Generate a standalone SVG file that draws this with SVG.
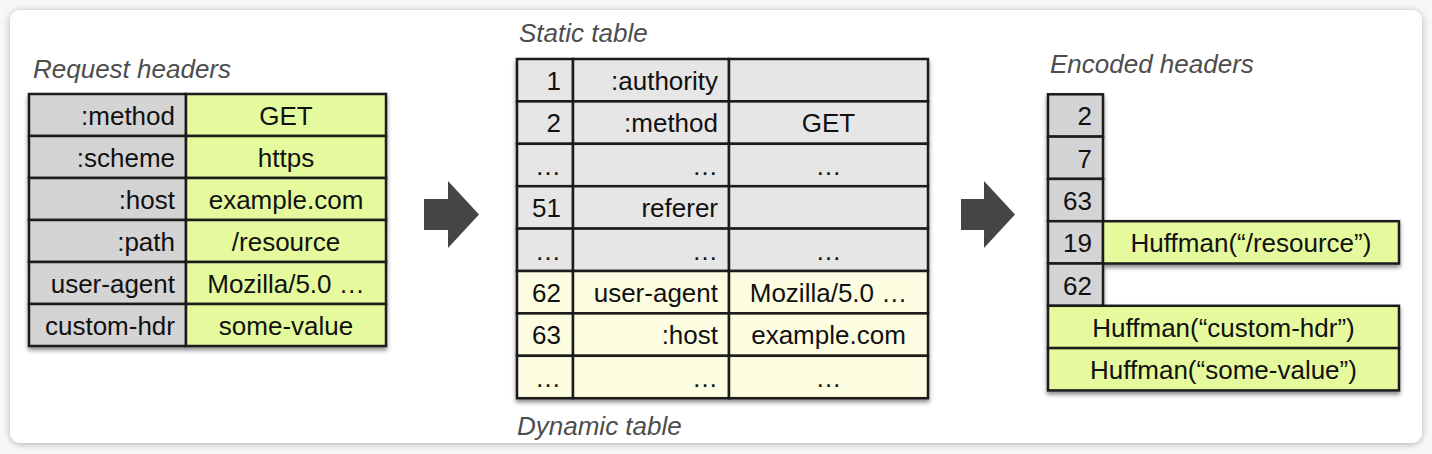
<svg xmlns="http://www.w3.org/2000/svg" width="1432" height="454" viewBox="0 0 1432 454">
<defs>
<filter id="cardShadow" x="-5%" y="-10%" width="110%" height="120%">
<feDropShadow dx="0" dy="1" stdDeviation="3.5" flood-color="#000" flood-opacity="0.3"/>
</filter>
<filter id="tblShadow" x="-5%" y="-5%" width="110%" height="115%">
<feDropShadow dx="0" dy="3" stdDeviation="2" flood-color="#000" flood-opacity="0.45"/>
</filter>
<style>
.c{stroke:#1a1a1a;stroke-width:2.5}
.g{fill:#d4d4d4}
.s{fill:#e6e6e6}
.y{fill:#fdfde1}
.v{fill:#e5fa9c}
.t{font-family:"Liberation Sans",Arial,sans-serif;font-size:26px;fill:#111}
.r{text-anchor:end}
.m{text-anchor:middle}
.h{font-family:"Liberation Sans",Arial,sans-serif;font-size:26px;font-style:italic;fill:#4d4d4d}
.a{fill:#454545}
</style>
</defs>
<rect x="0" y="0" width="1432" height="454" fill="#f7f7f7"/>
<rect x="10" y="10" width="1412" height="433" rx="11" fill="#ffffff" filter="url(#cardShadow)"/>

<g id="request-headers">
<text class="h" x="33" y="77.5">Request headers</text>
<g filter="url(#tblShadow)">
<rect class="c g" x="29" y="94" width="157" height="42"/><rect class="c v" x="186" y="94" width="200" height="42"/>
<rect class="c g" x="29" y="136" width="157" height="42"/><rect class="c v" x="186" y="136" width="200" height="42"/>
<rect class="c g" x="29" y="178" width="157" height="42"/><rect class="c v" x="186" y="178" width="200" height="42"/>
<rect class="c g" x="29" y="220" width="157" height="42"/><rect class="c v" x="186" y="220" width="200" height="42"/>
<rect class="c g" x="29" y="262" width="157" height="42"/><rect class="c v" x="186" y="262" width="200" height="42"/>
<rect class="c g" x="29" y="304" width="157" height="42"/><rect class="c v" x="186" y="304" width="200" height="42"/>
</g>
<text class="t r" x="175" y="125">:method</text><text class="t m" x="286" y="125">GET</text>
<text class="t r" x="175" y="167">:scheme</text><text class="t m" x="286" y="167">https</text>
<text class="t r" x="175" y="209">:host</text><text class="t m" x="286" y="209">example.com</text>
<text class="t r" x="175" y="251">:path</text><text class="t m" x="286" y="251">/resource</text>
<text class="t r" x="175" y="293">user-agent</text><text class="t m" x="286" y="293">Mozilla/5.0 …</text>
<text class="t r" x="175" y="335">custom-hdr</text><text class="t m" x="286" y="335">some-value</text>
</g>

<g id="header-table">
<text class="h" x="519" y="42">Static table</text>
<text class="h" x="517" y="435">Dynamic table</text>
<g filter="url(#tblShadow)">
<rect class="c s" x="517" y="59" width="56" height="42.4"/><rect class="c s" x="573" y="59" width="156" height="42.4"/><rect class="c s" x="729" y="59" width="199" height="42.4"/>
<rect class="c s" x="517" y="101.4" width="56" height="42.4"/><rect class="c s" x="573" y="101.4" width="156" height="42.4"/><rect class="c s" x="729" y="101.4" width="199" height="42.4"/>
<rect class="c s" x="517" y="143.8" width="56" height="42.4"/><rect class="c s" x="573" y="143.8" width="156" height="42.4"/><rect class="c s" x="729" y="143.8" width="199" height="42.4"/>
<rect class="c s" x="517" y="186.2" width="56" height="42.4"/><rect class="c s" x="573" y="186.2" width="156" height="42.4"/><rect class="c s" x="729" y="186.2" width="199" height="42.4"/>
<rect class="c s" x="517" y="228.6" width="56" height="42.4"/><rect class="c s" x="573" y="228.6" width="156" height="42.4"/><rect class="c s" x="729" y="228.6" width="199" height="42.4"/>
<rect class="c y" x="517" y="271" width="56" height="42.4"/><rect class="c y" x="573" y="271" width="156" height="42.4"/><rect class="c y" x="729" y="271" width="199" height="42.4"/>
<rect class="c y" x="517" y="313.4" width="56" height="42.4"/><rect class="c y" x="573" y="313.4" width="156" height="42.4"/><rect class="c y" x="729" y="313.4" width="199" height="42.4"/>
<rect class="c y" x="517" y="355.8" width="56" height="42.4"/><rect class="c y" x="573" y="355.8" width="156" height="42.4"/><rect class="c y" x="729" y="355.8" width="199" height="42.4"/>
</g>
<text class="t r" x="561" y="90">1</text><text class="t r" x="718" y="90">:authority</text>
<text class="t r" x="561" y="132.4">2</text><text class="t r" x="718" y="132.4">:method</text><text class="t m" x="828.5" y="132.4">GET</text>
<text class="t r" x="561" y="174.8">…</text><text class="t r" x="718" y="174.8">…</text><text class="t m" x="828.5" y="174.8">…</text>
<text class="t r" x="561" y="217.2">51</text><text class="t r" x="718" y="217.2">referer</text>
<text class="t r" x="561" y="259.6">…</text><text class="t r" x="718" y="259.6">…</text><text class="t m" x="828.5" y="259.6">…</text>
<text class="t r" x="561" y="302">62</text><text class="t r" x="718" y="302">user-agent</text><text class="t m" x="828.5" y="302">Mozilla/5.0 …</text>
<text class="t r" x="561" y="344.4">63</text><text class="t r" x="718" y="344.4">:host</text><text class="t m" x="828.5" y="344.4">example.com</text>
<text class="t r" x="561" y="386.8">…</text><text class="t r" x="718" y="386.8">…</text><text class="t m" x="828.5" y="386.8">…</text>
</g>

<g id="encoded-headers">
<text class="h" x="1050" y="73">Encoded headers</text>
<g filter="url(#tblShadow)">
<rect class="c g" x="1048" y="94.3" width="55" height="42.3"/>
<rect class="c g" x="1048" y="136.6" width="55" height="42.3"/>
<rect class="c g" x="1048" y="178.9" width="55" height="42.3"/>
<rect class="c g" x="1048" y="221.2" width="55" height="42.3"/>
<rect class="c v" x="1103" y="221.2" width="296" height="42.3"/>
<rect class="c g" x="1048" y="263.5" width="55" height="42.3"/>
<rect class="c v" x="1048" y="305.8" width="351" height="42.3"/>
<rect class="c v" x="1048" y="348.1" width="351" height="42.3"/>
</g>
<text class="t r" x="1092" y="125.3">2</text>
<text class="t r" x="1092" y="167.6">7</text>
<text class="t r" x="1092" y="209.9">63</text>
<text class="t r" x="1092" y="252.2">19</text>
<text class="t m" x="1251" y="252.2">Huffman(“/resource”)</text>
<text class="t r" x="1092" y="294.5">62</text>
<text class="t m" x="1223.5" y="336.8">Huffman(“custom-hdr”)</text>
<text class="t m" x="1223.5" y="379.1">Huffman(“some-value”)</text>
</g>

<g id="connectors">
<polygon class="a" points="424,199 448,199 448,181 479,214.5 448,248 448,230 424,230"/>
<polygon class="a" points="961,199 984,199 984,181 1015,214.5 984,248 984,230 961,230"/>
</g>
</svg>
